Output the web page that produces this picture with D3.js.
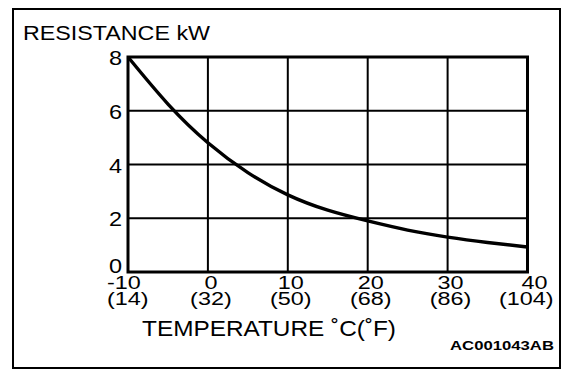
<!DOCTYPE html>
<html><head><meta charset="utf-8">
<script src="https://cdn.jsdelivr.net/npm/d3@7"></script>
<style>body{margin:0;background:#fff}svg{display:block}text{font-family:"Liberation Sans",Arial,sans-serif;fill:#000}</style>
</head><body><svg id="c" width="576" height="382"></svg>
<script>
const temperatures = [-10, -5, 0, 5, 10, 15, 20, 25, 30, 35, 40];
const resistance = [8.0, 6.25, 4.81, 3.7, 2.87, 2.3, 1.9, 1.56, 1.3, 1.1, 0.93];
const xTicks = [-10, 0, 10, 20, 30, 40];
const xTickF = ["(14)", "(32)", "(50)", "(68)", "(86)", "(104)"];
const yTicks = [0, 2, 4, 6, 8];

const svg = d3.select("#c");
const L = 128, R = 527.5, T = 57, B = 272;
const x = d3.scaleLinear().domain([-10, 40]).range([L, R]);
const y = d3.scaleLinear().domain([0, 8]).range([B, T]);

// stretched text helper (reference glyphs are wider than Liberation Sans)
function txt(px, py, s, size, anchor, sx, weight) {
  const gg = svg.append("g").attr("transform", `translate(${px},${py}) scale(${sx},1)`);
  return gg.append("text").attr("x", 0).attr("y", 0).attr("font-size", size)
    .attr("text-anchor", anchor).attr("font-weight", weight || "normal").text(s);
}

// outer frame
svg.append("rect").attr("x", 13).attr("y", 9).attr("width", 547).attr("height", 359)
  .attr("fill", "none").attr("stroke", "#000").attr("stroke-width", 2);

// grid
const g = svg.append("g");
g.selectAll(".vx").data(xTicks).join("line")
  .attr("x1", d => x(d)).attr("x2", d => x(d)).attr("y1", T).attr("y2", B)
  .attr("stroke", "#000").attr("stroke-width", 2);
g.selectAll(".hy").data(yTicks).join("line")
  .attr("x1", L).attr("x2", R).attr("y1", d => y(d)).attr("y2", d => y(d))
  .attr("stroke", "#000").attr("stroke-width", 2);
g.append("rect").attr("x", L).attr("y", T).attr("width", R - L).attr("height", B - T)
  .attr("fill", "none").attr("stroke", "#000").attr("stroke-width", 3);

// curve
const pts = temperatures.map((t, i) => [t, resistance[i]]);
svg.append("path").datum(pts)
  .attr("d", d3.line().x(d => x(d[0])).y(d => y(d[1])).curve(d3.curveNatural))
  .attr("fill", "none").attr("stroke", "#000").attr("stroke-width", 3.4);

// y tick labels
yTicks.forEach(t => {
  txt(L - 6, t === 0 ? y(t) + 1 : y(t) + 8, t, 21, "end", 1.12);
});

// x tick labels
xTicks.forEach((t, i) => {
  const first = i === 0, last = i === xTicks.length - 1;
  if (first) {
    txt(x(t) - 21, 289, t, 18, "start", 1.3);
    txt(x(t) - 21, 305, xTickF[i], 18, "start", 1.3);
  } else if (last) {
    txt(x(t) + 20, 289, t, 18, "end", 1.3);
    txt(x(t) + 26, 305, xTickF[i], 18, "end", 1.3);
  } else {
    txt(x(t) + 3, 289, t, 18, "middle", 1.3);
    txt(x(t) + 3, 305, xTickF[i], 18, "middle", 1.3);
  }
});

// titles
svg.append("text").attr("x", 23).attr("y", 40).attr("font-size", 21)
  .attr("textLength", 187).attr("lengthAdjust", "spacingAndGlyphs").text("RESISTANCE kW");
svg.append("text").attr("x", 142).attr("y", 336).attr("font-size", 22)
  .attr("textLength", 254).attr("lengthAdjust", "spacingAndGlyphs").text("TEMPERATURE ˚C(˚F)");
svg.append("text").attr("x", 450).attr("y", 350)
  .attr("font-size", 12.5).attr("font-weight", "bold")
  .attr("textLength", 104).attr("lengthAdjust", "spacingAndGlyphs").text("AC001043AB");
</script></body></html>
